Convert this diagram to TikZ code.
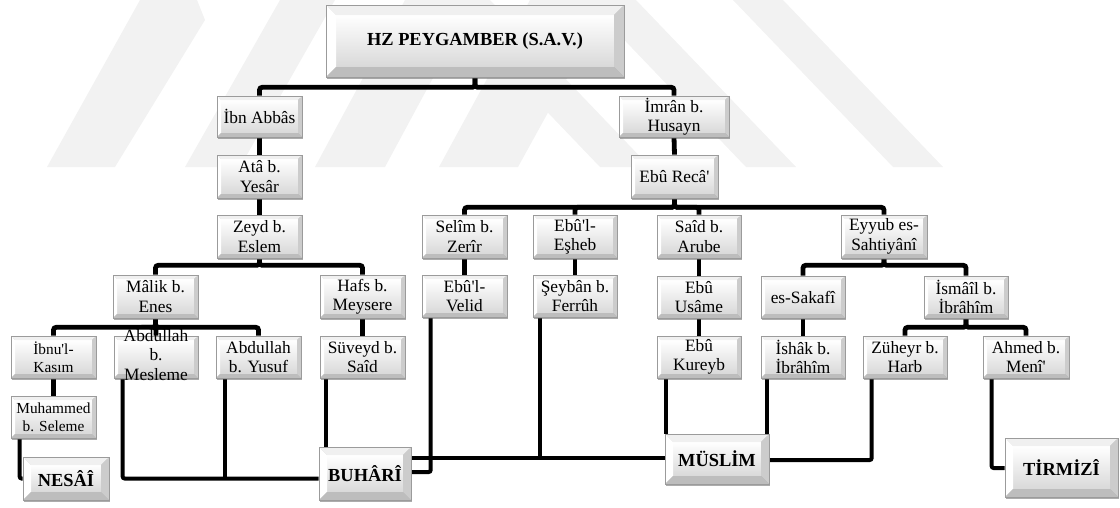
\documentclass[tikz,border=0pt]{standalone}
\usepackage{fontspec}
\setmainfont{Liberation Serif}[Ligatures=TeXOff]
\usetikzlibrary{calc,shadows}
\pgfdeclarelayer{wm}
\pgfdeclarelayer{bg}
\pgfsetlayers{wm,bg,main}
\definecolor{wmc}{RGB}{242,242,242}
\definecolor{bord}{RGB}{155,155,155}
\tikzset{
  bevw/.store in=\bevw, bevw=3pt,
  bevbox/.style={draw=bord, line width=0.5pt, inner sep=0pt, align=center,
    font=\fontsize{13}{14.5}\selectfont,
    drop shadow={shadow xshift=0.6pt, shadow yshift=-1.6pt, opacity=0.5, fill=black!65},
    path picture={
      \coordinate (pNW) at (path picture bounding box.north west);
      \coordinate (pNE) at (path picture bounding box.north east);
      \coordinate (pSW) at (path picture bounding box.south west);
      \coordinate (pSE) at (path picture bounding box.south east);
      \coordinate (qNW) at ([shift={(\bevw,-\bevw)}]pNW);
      \coordinate (qNE) at ([shift={(-\bevw,-\bevw)}]pNE);
      \coordinate (qSW) at ([shift={(\bevw,\bevw)}]pSW);
      \coordinate (qSE) at ([shift={(-\bevw,\bevw)}]pSE);
      \shade[top color=white, bottom color=gray!30] (qNW) rectangle (qSE);
      \fill[gray!12] (pNW) -- (pNE) -- (qNE) -- (qNW) -- cycle;
      \fill[white] (pNW) -- (qNW) -- (qSW) -- (pSW) -- cycle;
      \fill[gray!40] (pNE) -- (pSE) -- (qSE) -- (qNE) -- cycle;
      \fill[gray!52] (pSW) -- (pSE) -- (qSE) -- (qSW) -- cycle;
    }},
  smallbox/.style={bevbox, font=\fontsize{11.5}{13.5}\selectfont},
  bigbox/.style={bevbox, bevw=6pt, font=\fontsize{13.8}{15}\selectfont\bfseries},
  tree/.style={line width=3.6pt, rounded corners=2pt},
  link/.style={line width=3pt, rounded corners=1.5pt},
}
% \bx{name}{style}{x1}{y1}{x2}{y2}{text}  (pixel corners, y downwards)
\newcommand\bx[7]{\node[#2, minimum width={(#5-#3)*0.75pt}, minimum height={(#6-#4)*0.75pt}]
  (#1) at ({(#3+#5)/2},{(#4+#6)/2}) {#7};}
\begin{document}
\begin{tikzpicture}[x=0.75pt,y=-0.75pt]
\useasboundingbox (0,0) rectangle (1120,507);
\begin{pgfonlayer}{wm}
\fill[wmc] (140,0) -- (197,0) -- (205,20) -- (115,167) -- (47,167) -- cycle;
\fill[wmc] (280,0) -- (335,0) -- (240,167) -- (185,167) -- cycle;
\fill[wmc] (405,0) -- (475,0) -- (385,167) -- (315,167) -- cycle;
\fill[wmc] (530,0) -- (610,0) -- (518,167) -- (439,167) -- cycle;
\fill[wmc] (440,0) -- (490,0) -- (650,167) -- (600,167) -- cycle;
\fill[wmc] (586,0) -- (636,0) -- (796,167) -- (746,167) -- cycle;
\fill[wmc] (733,0) -- (783,0) -- (943,167) -- (893,167) -- cycle;
\end{pgfonlayer}

\bx{hz}{bigbox, bevw=7.5pt}{326}{5}{624}{77}{HZ PEYGAMBER (S.A.V.)}
\bx{ibn}{bevbox}{217}{96}{302}{137}{İbn Abbâs}
\bx{ata}{bevbox}{217}{155}{302}{198}{Atâ b.\\Yesâr}
\bx{zeyd}{bevbox}{217}{215}{302}{258}{Zeyd b.\\Eslem}
\bx{malik}{bevbox}{113}{275}{198}{318}{Mâlik b.\\Enes}
\bx{hafs}{bevbox}{320}{275}{405}{318}{Hafs b.\\Meysere}
\bx{kasim}{smallbox}{11}{336}{96}{378}{İbnu'l-\\Kasım}
\bx{mesleme}{bevbox}{114}{336}{198}{378}{\smash{\raisebox{-3pt}{\begin{tabular}{@{}c@{}}Abdullah\\b.\\Mesleme\end{tabular}}}}
\bx{yusuf}{bevbox}{216}{336}{301}{378}{Abdullah\\b. Yusuf}
\bx{suveyd}{bevbox}{320}{336}{405}{378}{Süveyd b.\\Saîd}
\bx{muh}{smallbox}{11}{396}{96}{438}{Muhammed\\b. Seleme}
\bx{nesai}{bigbox}{23}{457}{109}{500}{NESÂÎ}
\bx{buhari}{bigbox}{319}{447}{411}{500}{BUHÂRÎ}
\bx{imran}{bevbox}{619}{96}{729}{137}{İmrân b.\\Husayn}
\bx{reca}{bevbox}{631}{155}{718}{198}{Ebû Recâ'}
\bx{selim}{bevbox}{422}{215}{507}{258}{Selîm b.\\Zerîr}
\bx{eshab}{bevbox}{533}{215}{617}{258}{Ebû'l-\\Eşheb}
\bx{said}{bevbox}{657}{215}{741}{258}{Saîd b.\\Arube}
\bx{eyyub}{bevbox}{841}{215}{927}{258}{Eyyub es-\\Sahtiyânî}
\bx{velid}{bevbox}{422}{275}{507}{317}{Ebû'l-\\Velid}
\bx{seyban}{bevbox}{533}{275}{617}{317}{Şeybân b.\\Ferrûh}
\bx{usame}{bevbox}{657}{276}{741}{318}{Ebû\\Usâme}
\bx{kureyb}{bevbox}{657}{336}{741}{378}{Ebû\\Kureyb}
\bx{sakafi}{bevbox}{761}{276}{845}{318}{es-Sakafî}
\bx{ismail}{bevbox}{924}{276}{1008}{318}{İsmâîl b.\\İbrâhîm}
\bx{ishak}{bevbox}{761}{336}{845}{378}{İshâk b.\\İbrâhîm}
\bx{zuheyr}{bevbox}{863}{336}{947}{378}{Züheyr b.\\Harb}
\bx{ahmed}{bevbox}{983}{336}{1069}{378}{Ahmed b.\\Menî'}
\bx{muslim}{bigbox}{665}{434}{769}{484}{MÜSLİM}
\bx{tirmizi}{bigbox}{1005}{438}{1118}{497}{TİRMİZÎ}

\begin{pgfonlayer}{bg}
\draw[tree] (hz.south) -- ++(0,10) -| (ibn.north);
\draw[tree] (hz.south) -- ++(0,10) -| (imran.north);
\draw[tree] (ibn.south) -- (ata.north);
\draw[tree] (ata.south) -- (zeyd.north);
\draw[tree] (zeyd.south) -- ++(0,7) -| (malik.north);
\draw[tree] (zeyd.south) -- ++(0,7) -| (hafs.north);
\draw[tree] (malik.south) -- ++(0,9) -| (kasim.north);
\draw[tree] (malik.south) -- ++(0,9) -| (mesleme.north);
\draw[tree] (malik.south) -- ++(0,9) -| (yusuf.north);
\draw[tree] (hafs.south) -- (suveyd.north);
\draw[tree] (kasim.south) -- (muh.north);
\draw[tree] (imran.south) -- (reca.north);
\draw[tree] (reca.south) -- ++(0,9) -| (selim.north);
\draw[tree] (reca.south) -- ++(0,9) -| (eshab.north);
\draw[tree] (reca.south) -- ++(0,9) -| (said.north);
\draw[tree] (reca.south) -- ++(0,9) -| (eyyub.north);
\draw[tree] (selim.south) -- (velid.north);
\draw[tree] (eshab.south) -- (seyban.north);
\draw[tree] (said.south) -- (usame.north);
\draw[tree] (usame.south) -- (kureyb.north);
\draw[tree] (eyyub.south) -- ++(0,7) -| (sakafi.north);
\draw[tree] (eyyub.south) -- ++(0,7) -| (ismail.north);
\draw[tree] (sakafi.south) -- (ishak.north);
\draw[tree] (ismail.south) -- ++(0,9) -| (zuheyr.north);
\draw[tree] (ismail.south) -- ++(0,9) -| (ahmed.north);

\coordinate (bj) at ($(buhari.west)+(0,5)$);
\coordinate (bm) at ($(buhari.east)+(0,-15.5)$);
\draw[link] ($(muh.south west)+(9,0)$) |- (nesai.west);
\draw[link] ($(mesleme.south west)+(9,0)$) |- (bj);
\draw[link] ($(yusuf.south west)+(9,0)$) coordinate (ys) -- (ys |- bj);
\draw[link] ($(suveyd.south west)+(6,0)$) coordinate (sv) -- (sv |- buhari.north);
\draw[link] ($(velid.south west)+(9,0)$) |- ($(buhari.east)+(0,-1.5)$);
\draw[link] (bm) -- (bm -| muslim.west);
\draw[link] ($(seyban.south west)+(7,0)$) coordinate (sb) -- (sb |- bm);
\draw[link] ($(kureyb.south west)+(9,0)$) coordinate (kb) -- (kb |- muslim.north);
\draw[link] ($(ishak.south west)+(6,0)$) coordinate (ik) -- (ik |- muslim.north);
\draw[link] ($(zuheyr.south west)+(9,0)$) |- ($(muslim.east)+(0,1)$);
\draw[link] ($(ahmed.south west)+(9,0)$) |- ($(tirmizi.west)+(0,0.5)$);
\end{pgfonlayer}
\end{tikzpicture}
\end{document}
